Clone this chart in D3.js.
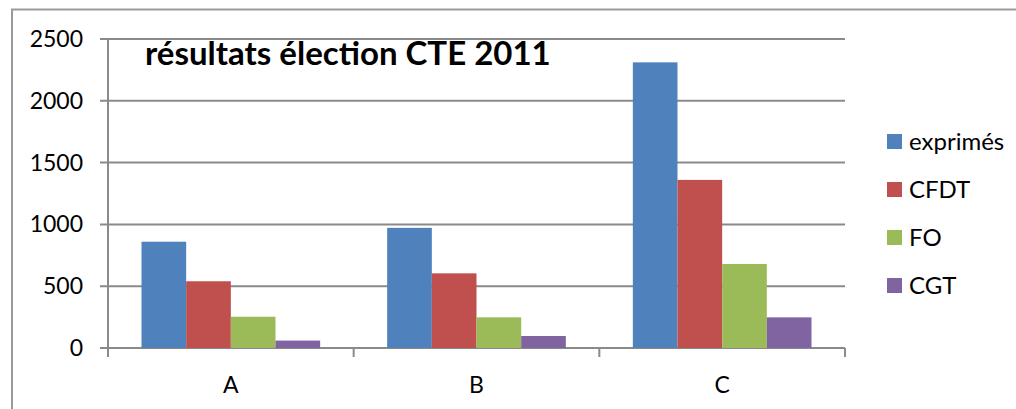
<!DOCTYPE html>
<html>
<head>
<meta charset="utf-8">
<script src="https://cdn.jsdelivr.net/npm/d3@7"></script>
<style>
	body { margin: 0; background: #fff; }
	text { font-family: Lato, "Open Sans", sans-serif; fill: #000; }
</style>
</head>
<body>
<script>
var width = 1016,
	height = 409;

var categories = ['A', 'B', 'C'];
var seriesNames = ['exprimés', 'CFDT', 'FO', 'CGT'];
var exprimes = [860, 972, 2311];
var cfdt = [540, 604, 1360];
var fo = [253, 248, 680];
var cgt = [60, 97, 248];
var yTicks = [0, 500, 1000, 1500, 2000, 2500];
var colors = ['#4f81bd', '#c0504d', '#9bbb59', '#8064a2'];

var seriesValues = [exprimes, cfdt, fo, cgt];

var plot = {left: 108, right: 845, top: 39, bottom: 348};

var svg = d3.select('body')
	.append('svg')
	.attr('width', width)
	.attr('height', height);

// outer frame (only top and left edges show)
svg.append('path')
	.attr('d', 'M12,409V9.5H1016')
	.attr('fill', 'none')
	.attr('stroke', '#9a9a9a')
	.attr('stroke-width', 2);

var x = d3.scaleBand()
	.domain(categories)
	.range([plot.left, plot.right]);

var xs = d3.scaleBand()
	.domain(seriesNames)
	.range([0, x.bandwidth()])
	.paddingOuter(0.75);

var y = d3.scaleLinear()
	.domain([0, 2500])
	.range([plot.bottom, plot.top]);

// gridlines
svg.append('g')
	.selectAll('line')
	.data(yTicks)
	.enter()
	.append('line')
	.attr('x1', plot.left - 8)
	.attr('x2', plot.right)
	.attr('y1', function(d) { return y(d); })
	.attr('y2', function(d) { return y(d); })
	.attr('stroke', '#8a8a8a')
	.attr('stroke-width', 2);

// y axis line
svg.append('line')
	.attr('x1', plot.left)
	.attr('x2', plot.left)
	.attr('y1', plot.top)
	.attr('y2', plot.bottom + 9)
	.attr('stroke', '#8a8a8a')
	.attr('stroke-width', 2);

// category separators
var seps = x.domain().map(function(c) { return x(c); }).concat([plot.right]);
svg.append('g')
	.selectAll('line')
	.data(seps.slice(1))
	.enter()
	.append('line')
	.attr('x1', function(d) { return d; })
	.attr('x2', function(d) { return d; })
	.attr('y1', plot.bottom)
	.attr('y2', plot.bottom + 9)
	.attr('stroke', '#8a8a8a')
	.attr('stroke-width', 2);

// y labels
svg.append('g')
	.selectAll('text')
	.data(yTicks)
	.enter()
	.append('text')
	.attr('x', 83)
	.attr('y', function(d) { return y(d) + 8; })
	.attr('text-anchor', 'end')
	.style('font-size', '23px')
	.text(function(d) { return d; });

// x labels
svg.append('g')
	.selectAll('text')
	.data(categories)
	.enter()
	.append('text')
	.attr('x', function(d) { return x(d) + x.bandwidth() / 2; })
	.attr('y', 393)
	.attr('text-anchor', 'middle')
	.style('font-size', '23px')
	.text(function(d) { return d; });

// bars
var groups = svg.append('g')
	.selectAll('g')
	.data(seriesNames)
	.enter()
	.append('g')
	.attr('fill', function(d, i) { return colors[i]; });

groups.selectAll('rect')
	.data(function(d, i) {
		return seriesValues[i].map(function(v, j) {
			return {s: d, c: categories[j], v: v};
		});
	})
	.enter()
	.append('rect')
	.attr('x', function(d) { return x(d.c) + xs(d.s); })
	.attr('width', xs.bandwidth())
	.attr('y', function(d) { return y(d.v); })
	.attr('height', function(d) { return y(0) - y(d.v); });

// title
svg.append('text')
	.attr('x', 145)
	.attr('y', 65)
	.style('font-size', '33px')
	.style('font-weight', 'bold')
	.text('résultats élection CTE 2011');

// legend
var legend = svg.append('g')
	.selectAll('g')
	.data(seriesNames)
	.enter()
	.append('g')
	.attr('transform', function(d, i) { return 'translate(887,' + (134 + i * 48) + ')'; });

legend.append('rect')
	.attr('width', 15)
	.attr('height', 15)
	.attr('fill', function(d, i) { return colors[i]; });

legend.append('text')
	.attr('x', 22)
	.attr('y', 16)
	.style('font-size', '24px')
	.text(function(d) { return d; });
</script>
</body>
</html>
